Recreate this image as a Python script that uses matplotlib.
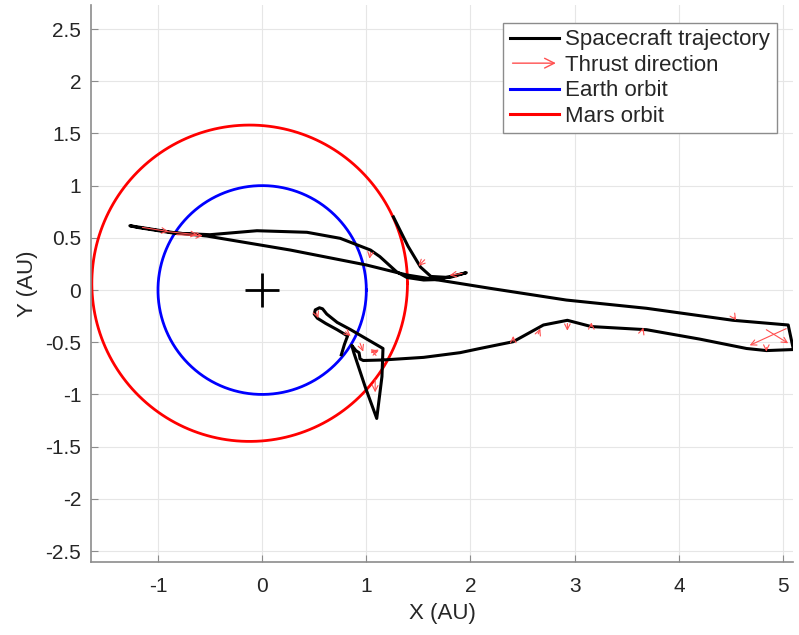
import numpy as np
import matplotlib
matplotlib.use('Agg')
import matplotlib.pyplot as plt
from matplotlib.lines import Line2D
from matplotlib.patches import FancyArrowPatch
from matplotlib.legend_handler import HandlerPatch

plt.rcParams['font.family'] = ['Liberation Sans', 'DejaVu Sans']
plt.rcParams['axes.unicode_minus'] = False

# spacecraft trajectory (AU)
traj_x = [0.76, 0.79, 0.82, 0.72, 0.61, 0.53, 0.50, 0.51, 0.55, 0.58, 0.62, 0.72, 0.85,
          1.16, 1.15, 1.10, 0.99, 0.92, 0.88, 0.86, 0.90, 0.93, 0.94, 0.97,
          1.16, 1.55, 1.90, 2.09, 2.41, 2.70, 2.93, 3.16, 3.69, 4.20, 4.65, 4.84, 5.10,
          5.05, 4.52, 3.69, 2.92, 2.19, 1.39, 1.00, 0.27, -0.53, -0.85, -1.27,
          -1.20, -0.85, -0.50, -0.05, 0.43, 0.75, 1.04, 1.13, 1.29, 1.39, 1.55, 1.68, 1.96,
          1.80, 1.62, 1.52, 1.40, 1.26]
traj_y = [-0.62, -0.52, -0.44, -0.38, -0.32, -0.27, -0.23, -0.19, -0.17, -0.18, -0.23, -0.31, -0.38,
          -0.56, -0.83, -1.23, -0.93, -0.72, -0.60, -0.53, -0.58, -0.60, -0.66, -0.675,
          -0.67, -0.645, -0.60, -0.56, -0.495, -0.335, -0.29, -0.35, -0.38, -0.47, -0.56, -0.58, -0.57,
          -0.335, -0.29, -0.175, -0.096, 0.016, 0.144, 0.24, 0.383, 0.517, 0.55, 0.616,
          0.60, 0.545, 0.53, 0.568, 0.553, 0.495, 0.383, 0.32, 0.175, 0.12, 0.096, 0.10, 0.166,
          0.12, 0.13, 0.22, 0.42, 0.70]

# thrust vectors: base point and direction (AU)
thr_x = [-1.15, -0.92, -0.82, 1.04, 1.56, 1.92, 0.52, 0.80, 0.94, 1.05, 1.085, 1.10,
         2.41, 2.65, 2.93, 3.16, 3.65, 4.53, 4.84, 5.03, 4.84]
thr_y = [0.60, 0.56, 0.53, 0.36, 0.29, 0.16, -0.22, -0.40, -0.51, -0.60, -0.86, -0.60,
         -0.49, -0.42, -0.32, -0.35, -0.39, -0.26, -0.55, -0.37, -0.38]
thr_u = [0.25, 0.30, 0.25, -0.01, -0.06, -0.12, 0.02, 0.05, 0.03, 0.07, 0.0, -0.06,
         0.0, 0.02, 0.0, 0.0, 0.01, 0.02, 0.0, -0.35, 0.21]
thr_v = [-0.04, -0.03, -0.01, -0.06, -0.06, -0.02, -0.05, -0.04, -0.08, 0.02, -0.12, 0.02,
         0.05, 0.05, -0.07, 0.04, 0.03, -0.03, -0.04, -0.16, -0.13]

# orbits
earth_center = (0.0, 0.0)
earth_radius = 1.0
mars_center = (-0.12, 0.065)
mars_radius = 1.515

xlim = (-1.643, 5.096)
ylim = (-2.605, 2.73)
xticks = [-1, 0, 1, 2, 3, 4, 5]
yticks = [-2.5, -2, -1.5, -1, -0.5, 0, 0.5, 1, 1.5, 2, 2.5]

arrow_color = '#ff5050'


class HandlerArrow(HandlerPatch):
    def create_artists(self, legend, orig_handle, xdescent, ydescent,
                       width, height, fontsize, trans):
        p = FancyArrowPatch((-xdescent, height / 2 - ydescent),
                            (width - xdescent, height / 2 - ydescent),
                            arrowstyle='->,head_length=0.5,head_width=0.25',
                            mutation_scale=14, lw=1.0, color=arrow_color)
        p.set_transform(trans)
        return [p]


fig = plt.figure(figsize=(7.99, 6.35), dpi=100)
ax = fig.add_axes([91 / 799, 1 - 562 / 635, 702 / 799, 557 / 635])

t = np.linspace(0, 2 * np.pi, 400)
ax.plot(earth_center[0] + earth_radius * np.cos(t), earth_center[1] + earth_radius * np.sin(t),
        color='#0000ff', lw=2.0, zorder=2)
ax.plot(mars_center[0] + mars_radius * np.cos(t), mars_center[1] + mars_radius * np.sin(t),
        color='#ff0000', lw=2.0, zorder=2)

ax.plot(traj_x, traj_y, color='black', lw=2.2, zorder=3, solid_joinstyle='round')

for x, y, u, v in zip(thr_x, thr_y, thr_u, thr_v):
    ax.annotate('', xy=(x + u, y + v), xytext=(x, y), xycoords='data',
                arrowprops=dict(arrowstyle='->,head_length=0.5,head_width=0.25',
                                color=arrow_color, lw=0.8, shrinkA=0, shrinkB=0,
                                mutation_scale=8), zorder=4)

ax.plot([0], [0], marker='+', color='black', markersize=24, mew=2, zorder=5)

ax.set_xlim(*xlim)
ax.set_ylim(*ylim)
ax.set_xticks(xticks)
ax.set_yticks(yticks)
ax.set_yticklabels([('%g' % v) for v in yticks])
ax.grid(True, color='#e6e6e6', lw=0.8)
ax.set_axisbelow(True)
for s in ['top', 'right']:
    ax.spines[s].set_visible(False)
for s in ['left', 'bottom']:
    ax.spines[s].set_color('#8c8c8c')
    ax.spines[s].set_linewidth(1.2)
ax.tick_params(direction='in', length=5, color='#8c8c8c', labelsize=15,
               labelcolor='#262626')
ax.tick_params(axis='x', pad=11)
ax.tick_params(axis='y', pad=7)
ax.set_xlabel('X (AU)', fontsize=16, color='#262626', labelpad=5)
ax.set_ylabel('Y (AU)', fontsize=16, color='#262626', labelpad=5)

handles = [Line2D([], [], color='black', lw=2.2),
           FancyArrowPatch((0, 0), (1, 0)),
           Line2D([], [], color='#0000ff', lw=2.2),
           Line2D([], [], color='#ff0000', lw=2.2)]
labels = ['Spacecraft trajectory', 'Thrust direction', 'Earth orbit', 'Mars orbit']
leg = ax.legend(handles, labels, loc='upper right', bbox_to_anchor=(0.977, 0.968),
                borderaxespad=0, fontsize=16, handlelength=2.2, handletextpad=0.3,
                labelspacing=0.2, borderpad=0.3, fancybox=False, framealpha=1,
                edgecolor='#8c8c8c', handler_map={FancyArrowPatch: HandlerArrow()})
leg.get_frame().set_linewidth(1.0)
for txt in leg.get_texts():
    txt.set_color('#262626')

fig.savefig('out.png', dpi=100)
